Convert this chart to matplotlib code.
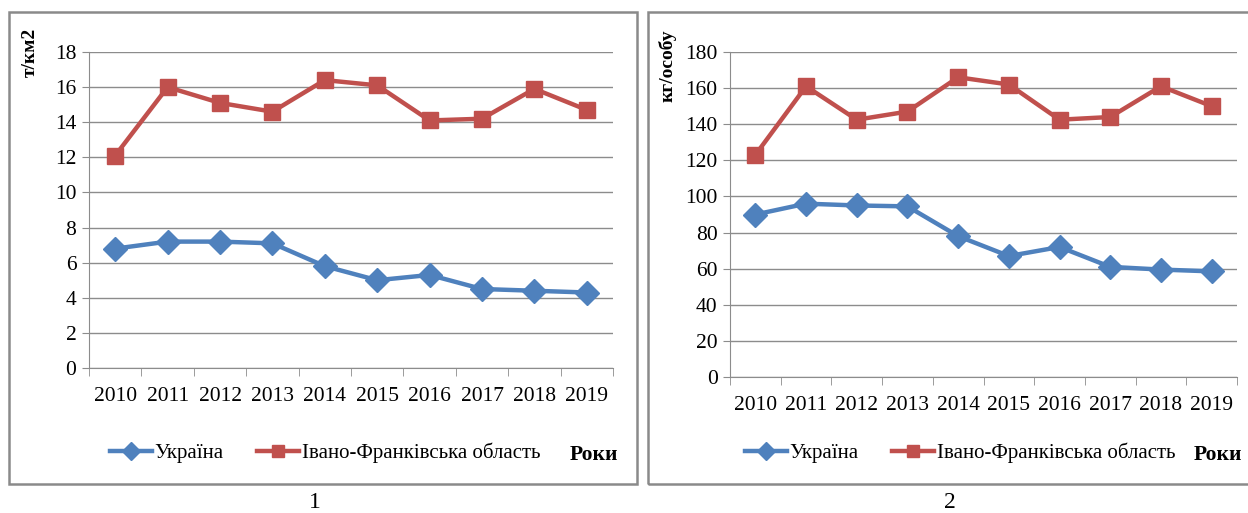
import matplotlib
matplotlib.use('Agg')
import matplotlib.pyplot as plt
from matplotlib.patches import Rectangle
from matplotlib.lines import Line2D

plt.rcParams['font.family'] = ['Liberation Serif', 'DejaVu Serif']

years = ['2010', '2011', '2012', '2013', '2014', '2015', '2016', '2017', '2018', '2019']

# chart 1: т/км2
ukraine_1 = [6.8, 7.2, 7.2, 7.1, 5.8, 5.0, 5.3, 4.5, 4.4, 4.3]
ifr_1 = [12.1, 16.0, 15.1, 14.6, 16.4, 16.1, 14.1, 14.2, 15.9, 14.7]

# chart 2: кг/особу
ukraine_2 = [90, 96, 95, 94.5, 78, 67, 72, 61, 59.5, 58.5]
ifr_2 = [123, 161, 142.5, 147, 166, 162, 142.5, 144, 161, 150]

series_names = ['Україна', 'Івано-Франківська область']
blue = '#4F81BD'
red = '#C0504D'
grid_c = '#8C8C8C'

W, H = 1248, 513
fig = plt.figure(figsize=(W / 100, H / 100), dpi=100)


def fx(px):
    return px / W


def fy(py):
    return 1 - py / H


def panel(rect_px, box_px, ua, ifr, ymax, ystep, ylabel, ylabel_xy, legend_x, roki_x, num, num_x):
    x0, y0, x1, y1 = rect_px
    ax = fig.add_axes([fx(x0), fy(y1), fx(x1 - x0), (y1 - y0) / H])
    xs = list(range(len(years)))
    ax.plot(xs, ua, color=blue, lw=3.2, marker='D', markersize=12, zorder=3)
    ax.plot(xs, ifr, color=red, lw=3.2, marker='s', markersize=12, zorder=3)
    ax.set_xlim(-0.5, len(years) - 0.5)
    ax.set_ylim(0, ymax)
    ax.set_yticks(range(0, ymax + 1, ystep))
    ax.set_xticks(xs)
    ax.set_xticklabels(years)
    ax.set_xticks([i - 0.5 for i in range(len(years) + 1)], minor=True)
    ax.tick_params(axis='x', which='major', length=0, pad=14, labelsize=15.5)
    ax.tick_params(axis='x', which='minor', length=6, color=grid_c, direction='out')
    ax.tick_params(axis='y', length=5, color=grid_c, labelsize=15.5, pad=4)
    ax.yaxis.grid(True, color=grid_c, lw=1)
    ax.set_axisbelow(True)
    for s in ['top', 'right']:
        ax.spines[s].set_visible(False)
    for s in ['left', 'bottom']:
        ax.spines[s].set_color(grid_c)
    fig.text(fx(ylabel_xy[0]), fy(ylabel_xy[1]), ylabel, rotation=90, ha='center', va='center',
             fontsize=14, fontweight='bold')

    handles = [Line2D([], [], color=blue, lw=3.2, marker='D', markersize=9),
               Line2D([], [], color=red, lw=3.2, marker='s', markersize=9)]
    fig.legend(handles, series_names, loc='center left', bbox_to_anchor=(fx(legend_x), fy(453)),
               ncol=2, frameon=False, fontsize=15, handlelength=2.0, handletextpad=0.15,
               columnspacing=1.6, borderaxespad=0, borderpad=0)
    fig.text(fx(roki_x), fy(455), 'Роки', ha='center', va='center', fontsize=15.5, fontweight='bold')

    bx0, by0, bx1, by1 = box_px
    fig.patches.append(Rectangle((fx(bx0), fy(by1)), fx(bx1 - bx0), (by1 - by0) / H,
                                 transform=fig.transFigure, fill=False, edgecolor='#8A8A8A', lw=1.8))
    fig.text(fx(num_x), fy(508), num, ha='center', va='baseline', fontsize=17)
    return ax


panel((89, 52, 613, 368), (9, 12, 637, 484), ukraine_1, ifr_1, 18, 2, 'т/км2', (30, 52),
      110, 594, '1', 315)
panel((730, 52, 1237, 377), (648, 12, 1252, 484), ukraine_2, ifr_2, 180, 20, 'кг/особу', (668, 66),
      745, 1218, '2', 950)

fig.savefig('out.png', dpi=100, facecolor='white')
